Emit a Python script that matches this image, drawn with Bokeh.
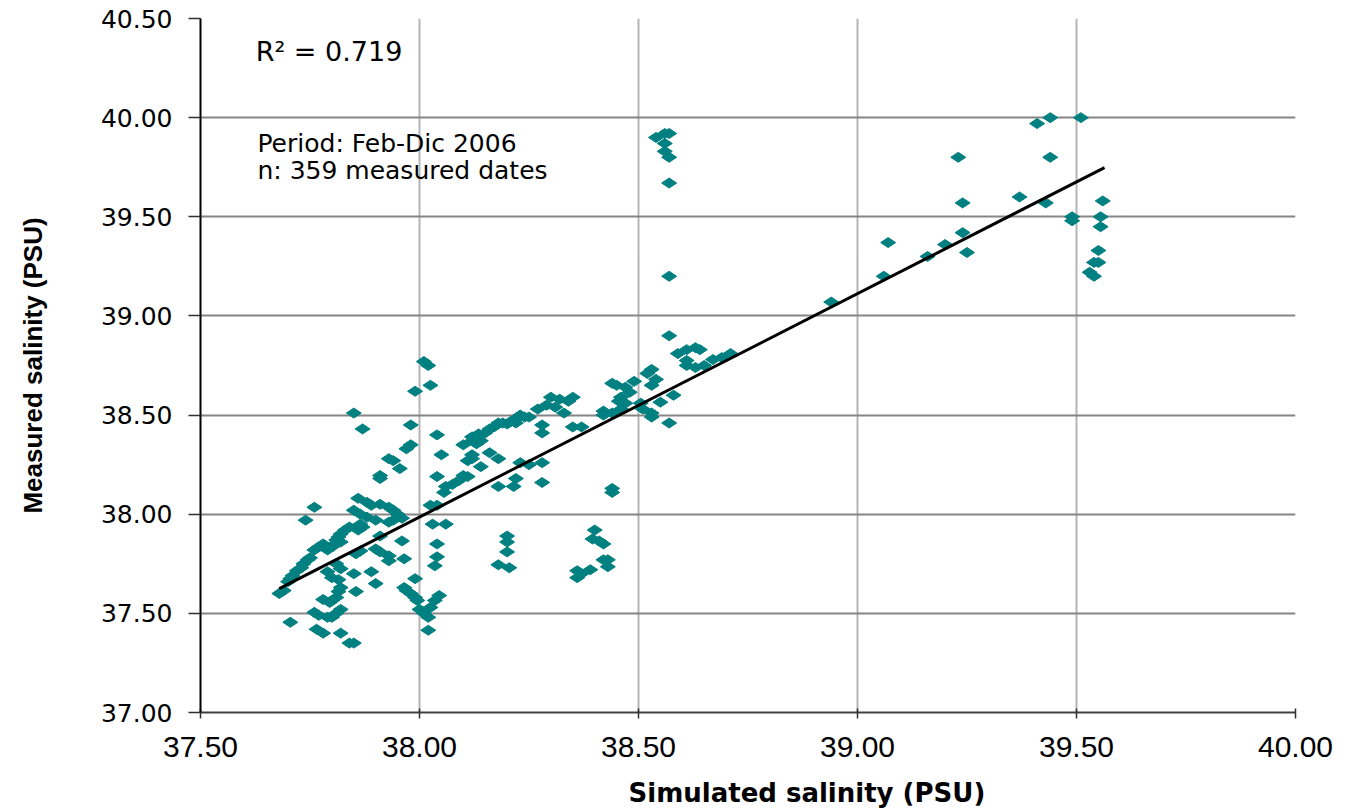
import numpy as np
from bokeh.plotting import figure
from bokeh.models import Label, Title, FixedTicker, NumeralTickFormatter, ColumnDataSource
from bokeh.embed import file_html
from bokeh.resources import INLINE

# ---------------- data ----------------
sim = [
    39.41, 39.44, 39.51, 39.23, 39.44, 39.24, 39.37, 39.43, 39.56, 39.49, 39.49, 39.555, 39.555,
    39.07, 39.24, 39.25, 39.20, 39.16, 39.06, 38.94, 39.55, 39.55, 39.54, 39.53, 39.54,
    38.54, 38.56, 38.57, 38.56, 38.56, 38.57, 38.57, 38.57, 38.57,
    38.59, 38.61, 38.63, 38.64, 38.61, 38.61, 38.63, 38.65, 38.67, 38.69, 38.71,
    38.53, 38.52, 38.54, 38.53, 38.49, 38.44, 38.45, 38.47, 38.48, 38.46, 38.455,
    38.47, 38.46, 38.44, 38.42, 38.42, 38.505, 38.51, 38.53, 38.53, 38.55, 38.58, 38.57,
    38.30, 38.32, 38.34, 38.35, 38.29, 38.27, 38.31, 38.33, 38.28, 38.28, 38.35, 38.37, 38.25,
    38.025, 38.04, 38.05, 38.04, 38.10,
    38.12, 38.135, 38.15, 38.16, 38.17, 38.18, 38.19, 38.21, 38.22, 38.23, 38.24, 38.22, 38.20,
    38.12, 38.13, 38.14, 38.12, 38.12, 38.11, 38.16, 38.18, 38.14,
    38.11, 38.10, 38.09, 38.075, 38.06, 38.056, 38.23, 38.25, 38.28, 38.18, 38.215, 38.22, 38.28,
    38.01, 38.02, 37.99, 37.85, 37.87, 37.98, 37.98, 37.97, 37.93, 37.94, 37.955, 37.91, 37.91,
    37.76, 37.74, 37.86, 37.88, 37.89, 37.91, 37.93, 37.85,
    37.94, 37.95, 37.96, 37.94, 37.93, 37.865, 37.88, 37.90, 37.865, 37.87, 37.86,
    37.84, 37.83, 37.82, 37.815, 37.81, 37.82, 37.80, 37.80, 37.79,
    37.78, 37.77, 37.76, 37.75, 37.745, 37.735, 37.73, 37.72, 37.71, 37.705, 37.70, 37.68, 37.69,
    37.79, 37.80, 37.815, 37.82, 37.815, 37.81, 37.80, 37.795, 37.81, 37.82, 37.85, 37.855,
    37.89, 37.90, 37.78, 37.76, 37.77, 37.79, 37.80, 37.81, 37.82, 37.705,
    37.765, 37.78, 37.82, 37.84, 37.85,
    37.90, 37.91, 37.93, 37.93, 37.965, 37.96, 37.91, 37.855, 37.865,
    37.965, 37.97, 37.98, 37.99, 37.995, 37.99,
    38.00, 38.01, 38.02, 38.025, 38.035, 38.045, 38.02,
    38.025, 38.04, 38.03, 38.04, 38.04, 38.035,
    38.06, 38.20, 38.20, 38.20, 38.18, 38.205,
    38.40, 38.395, 38.41, 38.42, 38.42, 38.43, 38.43, 38.36, 38.37, 38.39, 38.36,
    38.44, 38.44,
]
meas = [
    39.97, 40.00, 40.00, 39.80, 39.80, 39.57, 39.60, 39.57, 39.58, 39.50, 39.48, 39.50, 39.45,
    39.37, 39.42, 39.32, 39.36, 39.30, 39.20, 39.07, 39.33, 39.27, 39.27, 39.22, 39.20,
    39.90, 39.92, 39.92, 39.87, 39.83, 39.80, 39.67, 39.20, 38.90,
    38.81, 38.83, 38.84, 38.83, 38.775, 38.75, 38.74, 38.75, 38.78, 38.79, 38.81,
    38.73, 38.71, 38.68, 38.65, 38.67, 38.66, 38.65, 38.64, 38.615, 38.59, 38.57,
    38.56, 38.53, 38.51, 38.52, 38.50, 38.56, 38.53, 38.51, 38.49, 38.565, 38.60, 38.46,
    38.59, 38.58, 38.57, 38.59, 38.55, 38.53, 38.54, 38.51, 38.45, 38.41, 38.44, 38.44, 38.49,
    38.65, 38.40, 38.30, 38.19, 38.35,
    38.39, 38.405, 38.41, 38.43, 38.44, 38.46, 38.46, 38.47, 38.48, 38.50, 38.49, 38.46, 38.455,
    38.37, 38.355, 38.37, 38.30, 38.28, 38.27, 38.31, 38.28, 38.24,
    38.19, 38.195, 38.17, 38.15, 38.14, 38.11, 38.26, 38.25, 38.26, 38.14, 38.14, 38.18, 38.16,
    38.77, 38.75, 38.62, 38.51, 38.43, 38.45, 38.35, 38.33, 38.28, 38.27, 38.23, 38.195, 38.18,
    38.035, 37.97, 38.08, 38.06, 38.045, 38.05, 38.035, 38.02,
    38.02, 38.00, 37.98, 37.97, 37.96, 38.00, 37.985, 37.97, 37.95, 37.935, 37.92,
    37.935, 37.92, 37.90, 37.885, 37.87, 37.86, 37.84, 37.835, 37.82,
    37.85, 37.835, 37.82, 37.78, 37.77, 37.75, 37.73, 37.715, 37.69, 37.675, 37.66, 37.60, 37.615,
    37.71, 37.68, 37.67, 37.63, 37.61, 37.58, 37.565, 37.555, 37.75, 37.725, 37.70, 37.61,
    37.71, 37.65, 37.57, 37.505, 37.49, 37.48, 37.48, 37.50, 37.52, 37.455,
    37.42, 37.40, 37.40, 37.35, 37.35,
    37.825, 37.81, 37.79, 37.765, 37.775, 37.865, 37.89, 37.80, 37.815,
    37.63, 37.615, 37.60, 37.58, 37.565, 37.675,
    37.52, 37.50, 37.48, 37.53, 37.565, 37.59, 37.415,
    38.045, 38.045, 37.95, 37.85, 37.785, 37.74,
    37.95, 37.89, 37.86, 37.81, 37.745, 37.73,
    37.92, 37.875, 37.865, 37.85, 37.77, 37.77, 37.735, 37.715, 37.70, 37.72, 37.68,
    38.13, 38.11,
]
trend_x = [37.68, 39.564]
trend_y = [37.625, 39.748]
x_ticks = [37.50, 38.00, 38.50, 39.00, 39.50, 40.00]
y_ticks = [37.00, 37.50, 38.00, 38.50, 39.00, 39.50, 40.00, 40.50]
r2_text = "R² = 0.719"
note_lines = ["Period: Feb-Dic 2006", "n: 359 measured dates"]
x_title = "Simulated salinity (PSU)"
y_title = "Measured salinity (PSU)"

TEAL = "#008080"

p = figure(
    frame_width=1095, frame_height=694,
    x_range=(x_ticks[0], x_ticks[-1]), y_range=(y_ticks[0], y_ticks[-1]),
    output_backend="svg", toolbar_location=None,
    min_border_left=200, min_border_top=18, min_border_right=45, min_border_bottom=98,
)
p.outline_line_color = None
p.background_fill_color = "white"
p.border_fill_color = "white"

# grids
p.xgrid.ticker = FixedTicker(ticks=x_ticks)
p.ygrid.ticker = FixedTicker(ticks=y_ticks)
p.xgrid.grid_line_color = "#b4b4b4"
p.xgrid.grid_line_width = 2
p.ygrid.grid_line_color = "#858585"
p.ygrid.grid_line_width = 2

# axes
p.xaxis.ticker = FixedTicker(ticks=x_ticks)
p.yaxis.ticker = FixedTicker(ticks=y_ticks)
p.xaxis.formatter = NumeralTickFormatter(format="0.00")
p.yaxis.formatter = NumeralTickFormatter(format="0.00")
p.yaxis.axis_line_color = "black"
p.yaxis.axis_line_width = 2
p.xaxis.axis_line_color = "#404040"
p.xaxis.axis_line_width = 2
p.yaxis.major_tick_out = 12
p.yaxis.major_tick_in = 0
p.xaxis.major_tick_out = 6
p.xaxis.major_tick_in = 4
p.axis.major_tick_line_color = "#303030"
p.axis.major_tick_line_width = 1.5
p.axis.minor_tick_line_color = None
p.yaxis.major_label_text_font = "DejaVu Sans"
p.yaxis.major_label_text_font_size = "25px"
p.yaxis.major_label_standoff = 16
p.xaxis.major_label_text_font = "Liberation Sans"
p.xaxis.major_label_text_font_size = "30px"
p.xaxis.major_label_standoff = 18
p.axis.major_label_text_color = "black"

p.yaxis.axis_label = y_title
p.yaxis.axis_label_text_font = "Liberation Sans"
p.yaxis.axis_label_text_font_size = "26px"
p.yaxis.axis_label_text_font_style = "bold"
p.yaxis.axis_label_text_color = "black"
p.yaxis.axis_label_standoff = 50

xt = Title(text=x_title, align="left", offset=428,
           text_font="DejaVu Sans", text_font_size="26px", text_font_style="bold",
           text_color="black", standoff=33)
p.add_layout(xt, "below")

# data
src = ColumnDataSource(data=dict(x=sim, y=meas))
p.scatter("x", "y", source=src, marker="diamond", size=15, angle=np.pi / 2,
          fill_color=TEAL, line_color=TEAL, line_width=1)

p.line(trend_x, trend_y, line_color="black", line_width=3)

# annotations
p.add_layout(Label(x=37.626, y=40.333, text=r2_text, text_font="DejaVu Sans",
                   text_font_size="27px", text_baseline="middle", text_color="black"))
p.add_layout(Label(x=37.630, y=39.869, text=note_lines[0], text_font="DejaVu Sans",
                   text_font_size="25px", text_baseline="middle", text_color="black"))
p.add_layout(Label(x=37.630, y=39.733, text=note_lines[1], text_font="DejaVu Sans",
                   text_font_size="25px", text_baseline="middle", text_color="black"))

open("out.html", "w").write(file_html(p, INLINE))
